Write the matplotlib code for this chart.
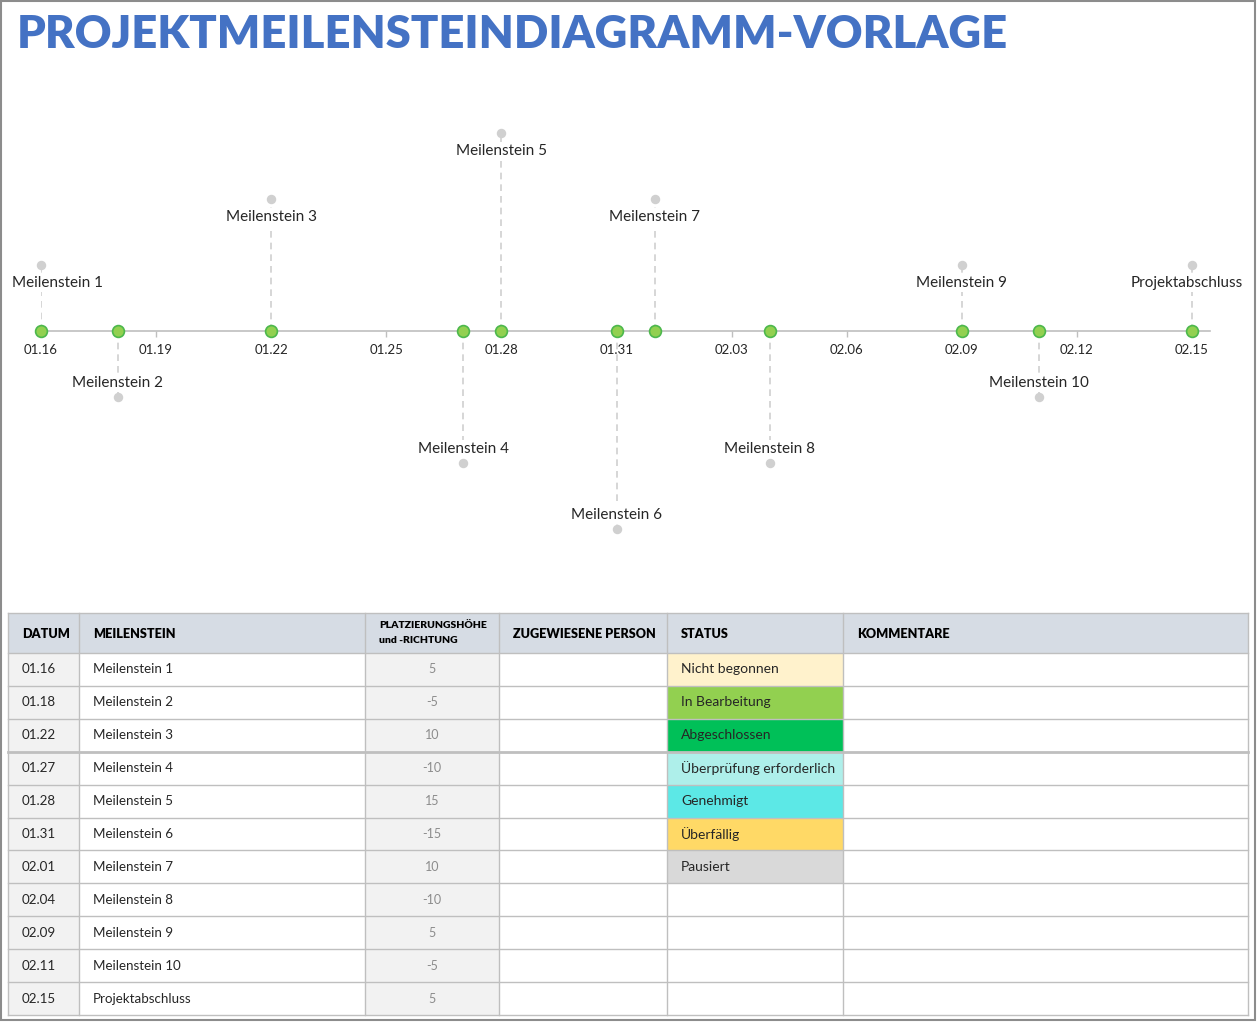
import matplotlib
matplotlib.use("Agg")
import matplotlib.pyplot as plt
import matplotlib.dates as mdates
from matplotlib.patches import Rectangle
import pandas as pd

# ---------------- data ----------------
dates = ["01.16", "01.18", "01.22", "01.27", "01.28", "01.31",
         "02.01", "02.04", "02.09", "02.11", "02.15"]
milestones = ["Meilenstein 1", "Meilenstein 2", "Meilenstein 3", "Meilenstein 4",
              "Meilenstein 5", "Meilenstein 6", "Meilenstein 7", "Meilenstein 8",
              "Meilenstein 9", "Meilenstein 10", "Projektabschluss"]
heights = [5, -5, 10, -10, 15, -15, 10, -10, 5, -5, 5]
statuses = ["Nicht begonnen", "In Bearbeitung", "Abgeschlossen",
            "Überprüfung erforderlich", "Genehmigt", "Überfällig", "Pausiert",
            "", "", "", ""]
status_colors = {"Nicht begonnen": "#FFF2CC", "In Bearbeitung": "#92D050",
                 "Abgeschlossen": "#00C058", "Überprüfung erforderlich": "#AEEFEA",
                 "Genehmigt": "#5CE8E6", "Überfällig": "#FFD966", "Pausiert": "#D9D9D9"}
headers = ["DATUM", "MEILENSTEIN", "PLATZIERUNGSHÖHE\nund -RICHTUNG",
           "ZUGEWIESENE PERSON", "STATUS", "KOMMENTARE"]
title = "PROJEKTMEILENSTEINDIAGRAMM-VORLAGE"

YEAR = "2024"
dts = pd.to_datetime([YEAR + "." + d for d in dates], format="%Y.%m.%d")
xnum = mdates.date2num(dts)
tick_dates = pd.date_range(dts[0], dts[-1], freq="3D")

FONT = "Lato"
W, H = 1257, 1022
fig = plt.figure(figsize=(W / 100, H / 100), dpi=100)
fig.patch.set_facecolor("white")

def fx(px):
    return px / W

def fy(py):
    return 1 - py / H

# outer frame
fig.add_artist(Rectangle((fx(1), fy(1020)), fx(1254), (1019) / H, transform=fig.transFigure,
                         fill=False, edgecolor="#8C8C8C", lw=1.5))

# ---------------- title ----------------
t = fig.text(fx(17), fy(34), title, fontsize=36, fontweight="heavy", color="#4472C4",
             family=FONT, va="center", ha="left")
fig.canvas.draw()
bb = t.get_window_extent()
t.set_fontsize(36 * 988 / bb.width)

# ---------------- timeline chart ----------------
x0px, x1px = 41, 1210
days_span = (1192 - 41) / 30.0  # px per day
y0px = 331
ppu = 13.2  # px per unit
ylo, yhi = -18, 18
ax = fig.add_axes([fx(x0px), fy(y0px - ylo * ppu), (x1px - x0px) / W, (yhi - ylo) * ppu / H])
ax.set_xlim(xnum[0], xnum[0] + (x1px - x0px) / days_span)
ax.set_ylim(ylo, yhi)
ax.set_facecolor("none")
for s in ["left", "right", "top"]:
    ax.spines[s].set_visible(False)
ax.spines["bottom"].set_position(("data", 0))
ax.spines["bottom"].set_color("#BFBFBF")
ax.spines["bottom"].set_linewidth(1.2)
ax.yaxis.set_visible(False)
ax.set_xticks(mdates.date2num(tick_dates))
ax.xaxis.set_major_formatter(mdates.DateFormatter("%m.%d"))
ax.tick_params(axis="x", direction="out", length=4, width=1.0, color="#BFBFBF",
               labelsize=9.5, labelcolor="#262626", pad=5)
for lab in ax.get_xticklabels():
    lab.set_family(FONT)

annots = []
for x, h, name in zip(xnum, heights, milestones):
    ax.plot([x, x], [0, h], ls=(0, (4, 3)), color="#D0D0D0", lw=1.2, zorder=1)
    ax.plot([x], [h], "o", ms=5.8, color="#D0D0D0", mec="#D0D0D0", zorder=2, clip_on=False)
    ax.plot([x], [0], "o", ms=8.5, mfc="#92D050", mec="#4CB84C", mew=1.2, zorder=5, clip_on=False)
    off = -18 if h > 0 else 14
    a = ax.annotate(name, (x, h), xytext=(0, off), textcoords="offset pixels",
                    ha="center", va="center", fontsize=11, family=FONT, color="#262626",
                    bbox=dict(boxstyle="square,pad=0.15", fc="white", ec="none"), zorder=4,
                    annotation_clip=False)
    annots.append((a, off))

# keep labels inside the picture, as the reference does
fig.canvas.draw()
r = fig.canvas.get_renderer()
for a, off in annots:
    e = a.get_window_extent(r)
    dx = 0
    if e.x0 < 12:
        dx = 12 - e.x0
    elif e.x1 > 1243:
        dx = 1243 - e.x1
    if dx:
        a.set_position((dx, off))

# ---------------- table ----------------
tax = fig.add_axes([0, 0, 1, 1])
tax.set_xlim(0, W)
tax.set_ylim(H, 0)
tax.axis("off")
tax.set_facecolor("none")

col_x = [8, 79, 365, 499, 667, 843, 1248]
top, head_bot, bottom = 613, 653, 1015
nrows = len(dates)
row_h = (bottom - head_bot) / nrows
grid = "#BFBFBF"

# header background
tax.add_patch(Rectangle((col_x[0], top), col_x[-1] - col_x[0], head_bot - top, fc="#D6DCE4", ec="none"))
for i in range(nrows):
    y = head_bot + i * row_h
    tax.add_patch(Rectangle((col_x[0], y), col_x[1] - col_x[0], row_h, fc="#F2F2F2", ec="none"))
    tax.add_patch(Rectangle((col_x[2], y), col_x[3] - col_x[2], row_h, fc="#F2F2F2", ec="none"))
    if statuses[i]:
        tax.add_patch(Rectangle((col_x[4], y), col_x[5] - col_x[4], row_h,
                                fc=status_colors[statuses[i]], ec="none"))

# grid lines
for cx in col_x:
    tax.plot([cx, cx], [top, bottom], color=grid, lw=1.0)
tax.plot([col_x[0], col_x[-1]], [top, top], color=grid, lw=1.0)
tax.plot([col_x[0], col_x[-1]], [head_bot, head_bot], color=grid, lw=1.0)
for i in range(1, nrows + 1):
    y = head_bot + i * row_h
    tax.plot([col_x[0], col_x[-1]], [y, y], color=grid, lw=2.0 if i == 3 else 1.0)

# header text
for j, htxt in enumerate(headers):
    if j == 2:
        tax.text(col_x[j] + 14, (top + head_bot) / 2, htxt, fontsize=7.5, fontweight="heavy",
                 family=FONT, va="center", ha="left", color="#000000", linespacing=1.8)
    else:
        tax.text(col_x[j] + 14, (top + head_bot) / 2 + 1, htxt, fontsize=9.1, fontweight="heavy",
                 family=FONT, va="center", ha="left", color="#000000")

# body text
for i in range(nrows):
    yc = head_bot + (i + 0.5) * row_h
    tax.text(col_x[0] + 14, yc, dates[i], fontsize=9.6, family=FONT, va="center", color="#262626")
    tax.text(col_x[1] + 14, yc, milestones[i], fontsize=9.6, family=FONT, va="center", color="#262626")
    tax.text((col_x[2] + col_x[3]) / 2, yc, str(heights[i]), fontsize=9, family=FONT,
             va="center", ha="center", color="#8C8C8C")
    if statuses[i]:
        tax.text(col_x[4] + 14, yc, statuses[i], fontsize=10, family=FONT, va="center", color="#262626")

fig.savefig("out.png", dpi=100)
